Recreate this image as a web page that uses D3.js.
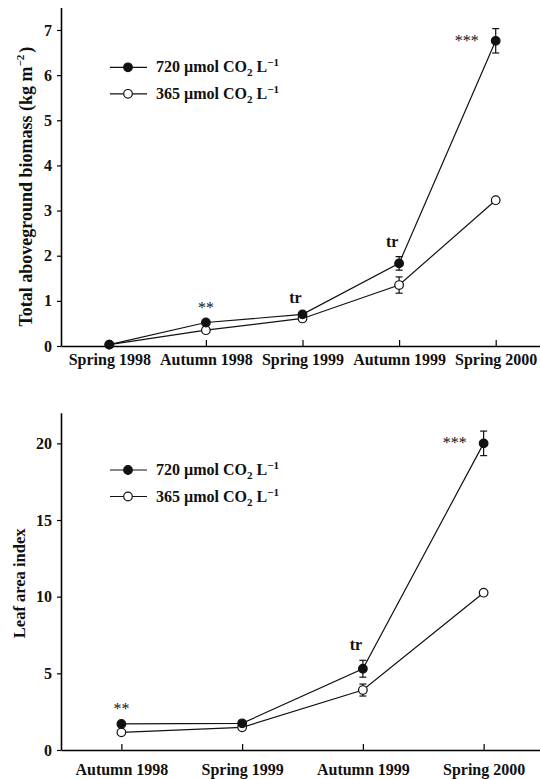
<script src="https://d3js.org/d3.v7.min.js"></script>
<body style="margin: 0; background: white;">
<svg id="vis"></svg>
</body>
<script>

  /***** DATA *****/

  // Top panel: total aboveground biomass
  var bioSeasons = ['Spring 1998', 'Autumn 1998', 'Spring 1999', 'Autumn 1999', 'Spring 2000']
  var bioHigh = [0.03, 0.52, 0.70, 1.83, 6.76]
  var bioHighErr = [0, 0.05, 0.04, 0.15, 0.27]
  var bioAmb = [0.03, 0.35, 0.61, 1.35, 3.23]
  var bioAmbErr = [0, 0.04, 0.04, 0.18, 0.04]
  var bioStars = ['', '**', 'tr', 'tr', '***']
  var bioTicks = [0, 1, 2, 3, 4, 5, 6, 7]

  // Bottom panel: leaf area index
  var laiSeasons = ['Autumn 1998', 'Spring 1999', 'Autumn 1999', 'Spring 2000']
  var laiHigh = [1.70, 1.74, 5.30, 20.0]
  var laiHighErr = [0.1, 0.1, 0.55, 0.8]
  var laiAmb = [1.15, 1.48, 3.91, 10.26]
  var laiAmbErr = [0.1, 0.1, 0.39, 0.15]
  var laiStars = ['**', '', 'tr', '***']
  var laiTicks = [0, 5, 10, 15, 20]

  var legendLabels = ['720', '365']

  /***** SETUP *****/

  var svg = d3.select('#vis')
  .attr('width', 540)
  .attr('height', 779)
  .style('display', 'block')

  var font = "'Liberation Serif', 'Times New Roman', serif"

  /***** PANEL DRAWING *****/

  function drawPanel(opts) {
    var g = svg.append('g')
    var n = opts.seasons.length

    var x = d3.scaleLinear()
    .domain([-0.5, n - 0.5])
    .range([61, 544])

    var y = d3.scaleLinear()
    .domain([0, opts.yMax])
    .range([opts.bottom, opts.top])

    // x axis
    var xAxis = g.append('g')
    .attr('transform', 'translate(0,' + opts.bottom + ')')
    .call(d3.axisBottom(x)
      .tickValues(d3.range(n))
      .tickFormat(function(i) { return opts.seasons[i] })
      .tickSizeInner(-6)
      .tickSizeOuter(0)
      .tickPadding(opts.xPad))
    xAxis.select('.domain').attr('stroke-width', 1.6)
    xAxis.selectAll('.tick line').attr('stroke-width', 1.2)
    xAxis.selectAll('text')
    .style('font-family', font)
    .style('font-weight', 700)
    .style('font-size', '16px')
    .attr('fill', '#111')

    // y axis
    var yAxis = g.append('g')
    .attr('transform', 'translate(61,0)')
    .call(d3.axisLeft(y)
      .tickValues(opts.ticks)
      .tickSizeInner(4)
      .tickSizeOuter(0)
      .tickPadding(5))
    yAxis.select('.domain').attr('stroke-width', 1.6)
    yAxis.selectAll('.tick line').attr('stroke-width', 1.2)
    yAxis.selectAll('text')
    .style('font-family', font)
    .style('font-weight', 700)
    .style('font-size', '16px')
    .attr('fill', '#111')

    // y label
    var lab = g.append('text')
    .attr('transform', 'translate(' + opts.labelX + ',' + ((opts.top + opts.bottom) / 2 + opts.labelShift) + ') rotate(-90)')
    .attr('text-anchor', 'middle')
    .style('font-family', font)
    .style('font-weight', 700)
    .style('font-size', opts.labelSize)
    .attr('fill', '#111')
    lab.append('tspan').text(opts.label)
    if (opts.labelSup) {
      lab.append('tspan').text(opts.labelSup).attr('dy', -8).style('font-size', '11px')
      lab.append('tspan').text(')').attr('dy', 8).attr('dx', 2)
    }

    var line = d3.line()
    .x(function(d, i) { return x(i) })
    .y(function(d) { return y(d) })

    var series = [
      {vals: opts.high, err: opts.highErr, fill: '#111'},
      {vals: opts.amb, err: opts.ambErr, fill: 'white'}
    ]

    series.forEach(function(s) {
      g.append('path')
      .attr('d', line(s.vals))
      .attr('fill', 'none')
      .attr('stroke', '#111')
      .attr('stroke-width', 1.2)
    })

    // error bars
    series.forEach(function(s) {
      var eb = g.append('g').attr('stroke', '#111').attr('stroke-width', 1.2)
      s.vals.forEach(function(v, i) {
        if (!s.err[i]) return
        var y1 = y(v - s.err[i]), y2 = y(v + s.err[i])
        eb.append('line').attr('x1', x(i)).attr('x2', x(i)).attr('y1', y1).attr('y2', y2)
        eb.append('line').attr('x1', x(i) - 3.5).attr('x2', x(i) + 3.5).attr('y1', y1).attr('y2', y1)
        eb.append('line').attr('x1', x(i) - 3.5).attr('x2', x(i) + 3.5).attr('y1', y2).attr('y2', y2)
      })
    })

    // markers (ambient first, then elevated on top)
    ;[series[1], series[0]].forEach(function(s) {
      g.selectAll(null)
      .data(s.vals)
      .enter()
      .append('circle')
      .attr('cx', function(d, i) { return x(i) })
      .attr('cy', function(d) { return y(d) })
      .attr('r', 4.3)
      .attr('fill', s.fill)
      .attr('stroke', '#111')
      .attr('stroke-width', 1.2)
    })

    // significance marks
    opts.stars.forEach(function(t, i) {
      if (!t) return
      var last = i === n - 1
      var isTr = t === 'tr'
      var py = y(opts.high[i])
      var tx, ty
      if (last) { tx = x(i) - 29; ty = py + 5 }
      else if (isTr) { tx = x(i) - 7; ty = y(opts.high[i] + opts.highErr[i]) - 10 }
      else { tx = x(i); ty = py - 10 }
      g.append('text')
      .text(t)
      .attr('x', tx)
      .attr('y', ty)
      .attr('text-anchor', 'middle')
      .style('font-family', font)
      .style('font-weight', isTr ? 700 : 400)
      .style('font-size', '16px')
      .attr('fill', '#111')
    })

    // legend
    legendLabels.forEach(function(lbl, k) {
      var ly = opts.legendY + k * 26.5
      g.append('line')
      .attr('x1', 110).attr('x2', 147).attr('y1', ly).attr('y2', ly)
      .attr('stroke', '#111').attr('stroke-width', 1.2)
      g.append('circle')
      .attr('cx', 128).attr('cy', ly).attr('r', 4.3)
      .attr('fill', k === 0 ? '#111' : 'white')
      .attr('stroke', '#111').attr('stroke-width', 1.2)
      var t = g.append('text')
      .attr('x', 156)
      .attr('y', ly + 5)
      .style('font-family', font)
      .style('font-weight', 700)
      .style('font-size', '16px')
      .attr('fill', '#111')
      t.append('tspan').text(lbl + ' \u00b5mol CO')
      t.append('tspan').text('2').attr('dy', 4).style('font-size', '11px')
      t.append('tspan').text(' L').attr('dy', -4)
      t.append('tspan').text('\u22121').attr('dy', -6).style('font-size', '11px')
    })
  }

  drawPanel({
    seasons: bioSeasons, high: bioHigh, highErr: bioHighErr, amb: bioAmb, ambErr: bioAmbErr,
    stars: bioStars, ticks: bioTicks, yMax: 7.5, top: 7.4, bottom: 346, xPad: 8,
    label: 'Total aboveground biomass (kg m', labelSup: '\u22122', labelX: 32, labelShift: 10,
    labelSize: '18px', legendY: 67.3
  })

  drawPanel({
    seasons: laiSeasons, high: laiHigh, highErr: laiHighErr, amb: laiAmb, ambErr: laiAmbErr,
    stars: laiStars, ticks: laiTicks, yMax: 22, top: 412.7, bottom: 750, xPad: 14,
    label: 'Leaf area index', labelSup: null, labelX: 25, labelShift: 2,
    labelSize: '16.5px', legendY: 470
  })

</script>
